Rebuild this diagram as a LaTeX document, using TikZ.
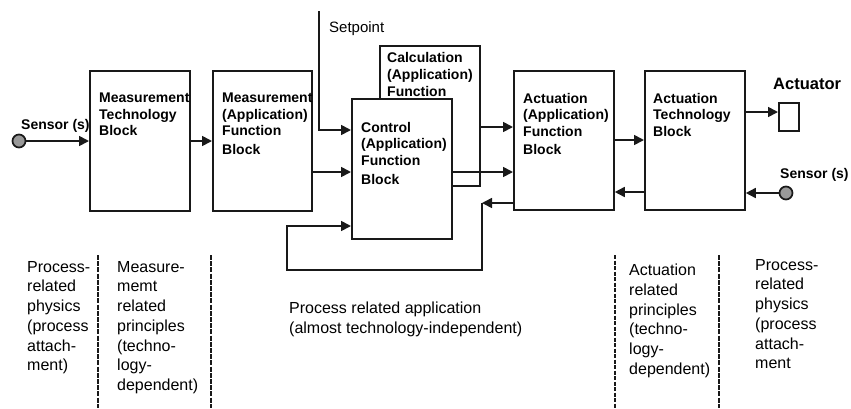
\documentclass[tikz,border=0pt]{standalone}
\usepackage{fontspec}
\setmainfont{Liberation Sans}
\usetikzlibrary{arrows.meta}
\begin{document}
\begin{tikzpicture}[x=1pt,y=-1pt,
  blk/.style={draw=black!90, line width=1.8pt, fill=white, inner sep=0pt, anchor=north west, rectangle},
  btxt/.style={anchor=north west, inner sep=0pt, align=left, font=\fontsize{14}{16.5}\selectfont\bfseries},
  ntxt/.style={anchor=north west, inner sep=0pt, align=left, font=\fontsize{16}{19.7}\selectfont},
  conn/.style={line width=1.7pt, draw=black!90},
  arr/.style={conn, -{Triangle[length=10pt,width=10pt]}},
  sens/.style={circle, draw=black!90, line width=1.7pt, fill=black!40, minimum size=13pt, inner sep=0pt},
  divA/.style={line width=2.4pt, dash pattern=on 5pt off 1.2pt, draw=black!90},
  divB/.style={line width=1.4pt, dash pattern=on 4pt off 1.5pt, draw=black!90}
]
\useasboundingbox (0,0) rectangle (851,408);

% blocks
\node[blk, minimum width=100pt, minimum height=140pt] (mtb) at (89,70) {};
\node[blk, minimum width=99pt, minimum height=140pt] (mafb) at (212,70) {};
\node[blk, minimum width=100pt, minimum height=140pt] (calc) at (379,45) {};
\node[blk, minimum width=100pt, minimum height=140pt] (ctrl) at (351,98) {};
\node[blk, minimum width=100pt, minimum height=139pt] (aafb) at (513,70) {};
\node[blk, minimum width=100pt, minimum height=139pt] (atb) at (644,70) {};
\node[blk, line width=1.6pt, minimum width=20pt, minimum height=28pt] (act) at (778,102) {};

% block texts
\node[btxt] (tmtb) at (99,93) {Measurement\\Technology\\Block};
\node[btxt] (tmafb) at (222,93) {Measurement\\(Application)\\Function\\[2pt]Block};
\node[btxt, font=\fontsize{14}{17}\selectfont\bfseries] (tcalc) at (387,52) {Calculation\\(Application)\\Function};
\node[btxt] (tctrl) at (361,122) {Control\\(Application)\\Function\\[3pt]Block};
\node[btxt] (taafb) at (523,93) {Actuation\\(Application)\\Function\\[2pt]Block};
\node[btxt] (tatb) at (653,93) {Actuation\\Technology\\Block};

% sensors
\node[sens] (s1) at (19,141) {};
\node[sens] (s2) at (786,193) {};
\node[btxt] (ls1) at (21,119) {Sensor (s)};
\node[btxt] (ls2) at (780,168) {Sensor (s)};
\node[btxt, font=\fontsize{16.5}{18}\selectfont\bfseries] (lact) at (773,78) {Actuator};
\node[ntxt, font=\fontsize{15}{18}\selectfont] (lsp) at (329,21) {Setpoint};

% connectors
\coordinate (sp) at (319,11);
\coordinate (fb) at (482,203);
\coordinate (fbB) at (287,270);
\draw[arr] (s1) -- (s1 -| mtb.west);
\draw[arr] (mtb.east |- s1) -- (mafb.west |- s1);
\draw[arr] (mafb.east |- 0,172) -- (ctrl.west |- 0,172);
\draw[arr] (sp) |- (ctrl.west |- 0,130);
\draw[arr] (aafb.west |- fb) -- (fb);
\draw[arr] (fb) |- (fbB) |- (ctrl.west |- 0,226);
\draw[arr] (calc.east |- 0,127) -- (aafb.west |- 0,127);
\draw[arr] (ctrl.east |- 0,172) -- (aafb.west |- 0,172);
\draw[arr] (aafb.east |- 0,140) -- (atb.west |- 0,140);
\draw[arr] (atb.west |- 0,192) -- (aafb.east |- 0,192);
\draw[arr] (atb.east |- 0,112) -- (act.west |- 0,112);
\draw[arr] (s2) -- (s2 -| atb.east);

% dividers
\draw[divA] (98,255) -- (98,408);
\draw[divA] (211,255) -- (211,408);
\draw[divB] (615,255) -- (615,408);
\draw[divA] (719,255) -- (719,408);

% bottom texts
\node[ntxt] (c1) at (27,261) {Process-\\related\\physics\\(process\\attach-\\ment)};
\node[ntxt] (c2) at (117,261) {Measure-\\memt\\related\\principles\\(techno-\\logy-\\dependent)};
\node[ntxt] (c3) at (289,302) {Process related application\\(almost technology-independent)};
\node[ntxt] (c4) at (629,264) {Actuation\\related\\principles\\(techno-\\logy-\\dependent)};
\node[ntxt] (c5) at (755,259) {Process-\\related\\physics\\(process\\attach-\\ment};
\end{tikzpicture}
\end{document}
